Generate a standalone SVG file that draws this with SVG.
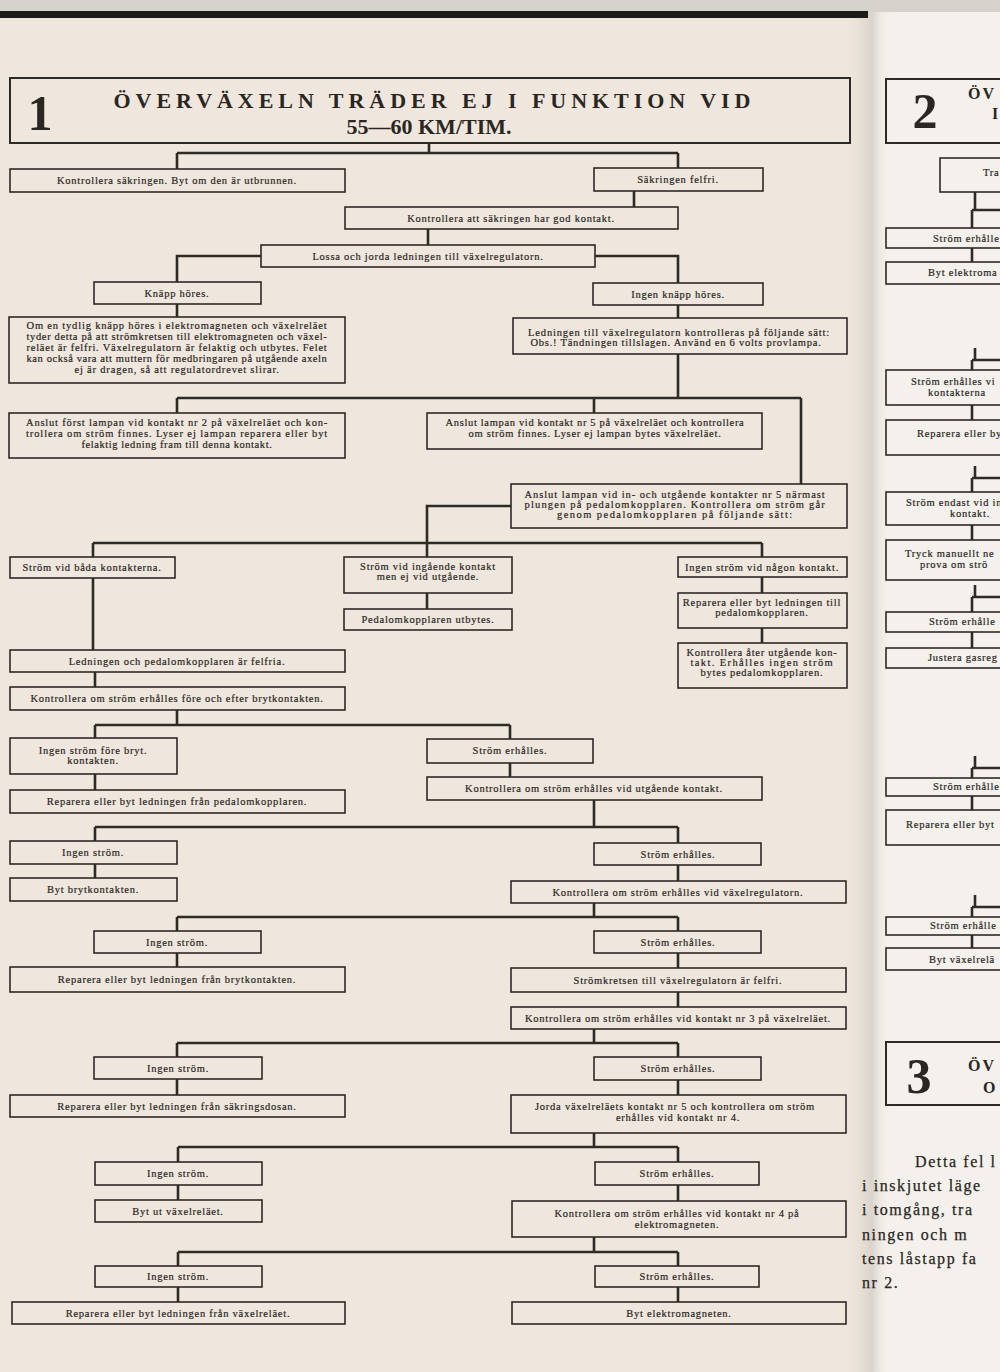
<svg xmlns="http://www.w3.org/2000/svg" width="1000" height="1372" viewBox="0 0 1000 1372">
<defs>
<linearGradient id="fold" x1="0" x2="1" y1="0" y2="0">
<stop offset="0" stop-color="#e9e2d8" stop-opacity="0"/>
<stop offset="0.6" stop-color="#d9d3cb"/>
<stop offset="1" stop-color="#f3f0eb" stop-opacity="0"/>
</linearGradient>
<style>
.b{fill:none;stroke:#2e2a26;stroke-width:1.6}
.c{fill:none;stroke:#2e2a26;stroke-width:2.6;stroke-linejoin:miter}
.t{font-family:"Liberation Serif","DejaVu Serif",serif;font-size:10.5px;fill:#2a2623;stroke:#2a2623;stroke-width:0.2;letter-spacing:0.75px;text-anchor:middle}
.s{font-family:"Liberation Serif","DejaVu Serif",serif;font-size:10.5px;fill:#2a2623;stroke:#2a2623;stroke-width:0.2;letter-spacing:0.75px}
.hn{font-family:"Liberation Serif","DejaVu Serif",serif;font-weight:bold;font-size:50px;fill:#2a2622;text-anchor:middle}
.ht{font-family:"Liberation Serif","DejaVu Serif",serif;font-weight:bold;font-size:22px;fill:#2a2622;text-anchor:middle}
.hs{font-family:"Liberation Serif","DejaVu Serif",serif;font-weight:bold;font-size:16px;fill:#2a2622;letter-spacing:2px}
.p{font-family:"Liberation Serif","DejaVu Serif",serif;font-size:16px;fill:#2a2623;stroke:#2a2623;stroke-width:0.25;letter-spacing:1.6px}
</style>
</defs>
<rect width="1000" height="1372" fill="#efe7dd"/>
<rect x="870" y="0" width="130" height="1372" fill="#f4f1ec"/>
<rect x="845" y="0" width="45" height="1372" fill="url(#fold)"/>
<rect x="0" y="0" width="1000" height="12" fill="#d6d2cc"/>
<rect x="0" y="11" width="868" height="7" fill="#1e1c1a"/>

<g id="connectors">
<path class="c" d="M429 143V153M177 153H678M177 153V169M678 153V168"/>
<path class="c" d="M634 191V207M428 229V245"/>
<path class="c" d="M261 256H177V282M595 256H678V283"/>
<path class="c" d="M177 304V317M678 305V318"/>
<path class="c" d="M678 354V398M177 398H801M177 398V413M594 398V413M801 398V484"/>
<path class="c" d="M511 506H427V557M93 543H762M93 543V557M93 578V650M762 543V557"/>
<path class="c" d="M427 593V609M762 577V593M762 628V643"/>
<path class="c" d="M95 672V687M177 710V725M95 725H510M95 725V738M510 725V739"/>
<path class="c" d="M95 774V790M510 763V777"/>
<path class="c" d="M594 800V827M95 827H678M95 827V841M678 827V843"/>
<path class="c" d="M95 864V878M678 865V881"/>
<path class="c" d="M594 903V917M177 917H678M177 917V931M678 917V931"/>
<path class="c" d="M177 953V967M678 953V968M678 992V1007"/>
<path class="c" d="M594 1029V1043M177 1043H678M177 1043V1057M678 1043V1057"/>
<path class="c" d="M177 1079V1095M678 1080V1095"/>
<path class="c" d="M594 1133V1147M178 1147H678M178 1147V1162M678 1147V1162"/>
<path class="c" d="M178 1185V1200M678 1185V1201"/>
<path class="c" d="M594 1237V1252M178 1252H678M178 1252V1266M678 1252V1266"/>
<path class="c" d="M178 1287V1302M678 1287V1302"/>
<path class="c" d="M975 192V210M972 210H1002M972 210V228M972 248V262"/>
<path class="c" d="M975 348V360M972 360H1002M972 360V370M972 405V420"/>
<path class="c" d="M975 466V478M972 478H1002M972 478V492M972 525V540"/>
<path class="c" d="M975 585V597M972 597H1002M972 597V612M972 632V648"/>
<path class="c" d="M975 756V768M972 768H1002M972 768V778M972 796V810"/>
<path class="c" d="M975 895V907M972 907H1002M972 907V917M972 935V948"/>
</g>

<g id="h1"><rect class="b" x="10" y="78" width="840" height="65" style="stroke-width:2"/>
<text class="hn" x="40" y="130">1</text>
<text class="ht" x="432" y="108" textLength="637" lengthAdjust="spacing">ÖVERVÄXELN TRÄDER EJ I FUNKTION VID</text>
<text class="ht" x="429" y="134">55—60 KM/TIM.</text></g>

<g id="n1"><rect class="b" x="10" y="169" width="335" height="23"/><text class="t" x="177" y="184">Kontrollera säkringen.  Byt om den är utbrunnen.</text></g>
<g id="n2"><rect class="b" x="594" y="168" width="169" height="23"/><text class="t" x="678" y="183">Säkringen felfri.</text></g>
<g id="n3"><rect class="b" x="345" y="207" width="333" height="22"/><text class="t" x="511" y="222">Kontrollera att säkringen har god kontakt.</text></g>
<g id="n4"><rect class="b" x="261" y="245" width="334" height="22"/><text class="t" x="428" y="260">Lossa och jorda ledningen till växelregulatorn.</text></g>
<g id="n5"><rect class="b" x="94" y="282" width="167" height="22"/><text class="t" x="177" y="297">Knäpp höres.</text></g>
<g id="n6"><rect class="b" x="593" y="283" width="170" height="22"/><text class="t" x="678" y="298">Ingen knäpp höres.</text></g>
<g id="n7"><rect class="b" x="9" y="317" width="336" height="66"/>
<text class="t" x="177" y="329" textLength="301" lengthAdjust="spacing">Om en tydlig knäpp höres i elektromagneten och växelreläet</text>
<text class="t" x="177" y="340" textLength="301" lengthAdjust="spacing">tyder detta på att strömkretsen till elektromagneten och växel-</text>
<text class="t" x="177" y="351" textLength="301" lengthAdjust="spacing">reläet är felfri.  Växelregulatorn är felaktig och utbytes. Felet</text>
<text class="t" x="177" y="362" textLength="301" lengthAdjust="spacing">kan också vara att muttern för medbringaren på utgående axeln</text>
<text class="t" x="177" y="373" textLength="205" lengthAdjust="spacing">ej är dragen, så att regulatordrevet slirar.</text></g>
<g id="n8"><rect class="b" x="513" y="318" width="334" height="36"/>
<text class="t" x="679" y="336" textLength="302" lengthAdjust="spacing">Ledningen till växelregulatorn kontrolleras på följande sätt:</text>
<text class="t" x="676" y="346" textLength="291" lengthAdjust="spacing">Obs.! Tändningen tillslagen.  Använd en 6 volts provlampa.</text></g>
<g id="n9"><rect class="b" x="9" y="413" width="336" height="45"/>
<text class="t" x="177" y="426" textLength="302" lengthAdjust="spacing">Anslut först lampan vid kontakt nr 2 på växelreläet och kon-</text>
<text class="t" x="177" y="437" textLength="302" lengthAdjust="spacing">trollera om ström finnes.  Lyser ej lampan reparera eller byt</text>
<text class="t" x="177" y="448" textLength="191" lengthAdjust="spacing">felaktig ledning fram till denna kontakt.</text></g>
<g id="n10"><rect class="b" x="427" y="413" width="335" height="36"/>
<text class="t" x="595" y="426" textLength="299" lengthAdjust="spacing">Anslut lampan vid kontakt nr 5 på växelreläet och kontrollera</text>
<text class="t" x="595" y="437" textLength="253" lengthAdjust="spacing">om ström finnes.  Lyser ej lampan bytes växelreläet.</text></g>
<g id="n11"><rect class="b" x="511" y="484" width="336" height="44"/>
<text class="t" x="675" y="498" textLength="301" lengthAdjust="spacing">Anslut lampan vid in- och utgående kontakter nr 5 närmast</text>
<text class="t" x="675" y="508" textLength="301" lengthAdjust="spacing">plungen på pedalomkopplaren.  Kontrollera om ström går</text>
<text class="t" x="675" y="518" textLength="236" lengthAdjust="spacing">genom pedalomkopplaren på följande sätt:</text></g>
<g id="n12"><rect class="b" x="10" y="557" width="165" height="21"/><text class="t" x="92" y="571">Ström vid båda kontakterna.</text></g>
<g id="n13"><rect class="b" x="344" y="557" width="168" height="36"/>
<text class="t" x="428" y="570">Ström vid ingående kontakt</text>
<text class="t" x="428" y="580">men ej vid utgående.</text></g>
<g id="n14"><rect class="b" x="678" y="557" width="169" height="20"/><text class="t" x="762" y="571">Ingen ström vid någon kontakt.</text></g>
<g id="n15"><rect class="b" x="344" y="609" width="168" height="21"/><text class="t" x="428" y="623">Pedalomkopplaren utbytes.</text></g>
<g id="n16"><rect class="b" x="678" y="593" width="169" height="35"/>
<text class="t" x="762" y="606">Reparera eller byt ledningen till</text>
<text class="t" x="762" y="616">pedalomkopplaren.</text></g>
<g id="n17"><rect class="b" x="678" y="643" width="169" height="45"/>
<text class="t" x="762" y="656" textLength="151" lengthAdjust="spacing">Kontrollera åter utgående kon-</text>
<text class="t" x="762" y="666" textLength="143" lengthAdjust="spacing">takt.  Erhålles ingen ström</text>
<text class="t" x="762" y="676">bytes pedalomkopplaren.</text></g>
<g id="n18"><rect class="b" x="10" y="650" width="335" height="22"/><text class="t" x="177" y="665">Ledningen och pedalomkopplaren är felfria.</text></g>
<g id="n19"><rect class="b" x="10" y="687" width="335" height="23"/><text class="t" x="177" y="702">Kontrollera om ström erhålles före och efter brytkontakten.</text></g>
<g id="n20"><rect class="b" x="10" y="738" width="167" height="36"/>
<text class="t" x="93" y="754">Ingen ström före bryt.</text>
<text class="t" x="93" y="764">kontakten.</text></g>
<g id="n21"><rect class="b" x="427" y="739" width="166" height="24"/><text class="t" x="510" y="754">Ström erhålles.</text></g>
<g id="n22"><rect class="b" x="10" y="790" width="335" height="23"/><text class="t" x="177" y="805">Reparera eller byt ledningen från pedalomkopplaren.</text></g>
<g id="n23"><rect class="b" x="427" y="777" width="335" height="23"/><text class="t" x="594" y="792">Kontrollera om ström erhålles vid utgående kontakt.</text></g>
<g id="n24"><rect class="b" x="10" y="841" width="167" height="23"/><text class="t" x="93" y="856">Ingen ström.</text></g>
<g id="n25"><rect class="b" x="594" y="843" width="167" height="22"/><text class="t" x="678" y="858">Ström erhålles.</text></g>
<g id="n26"><rect class="b" x="10" y="878" width="167" height="23"/><text class="t" x="93" y="893">Byt brytkontakten.</text></g>
<g id="n27"><rect class="b" x="511" y="881" width="335" height="22"/><text class="t" x="678" y="896">Kontrollera om ström erhålles vid växelregulatorn.</text></g>
<g id="n28"><rect class="b" x="94" y="931" width="167" height="22"/><text class="t" x="177" y="946">Ingen ström.</text></g>
<g id="n29"><rect class="b" x="594" y="931" width="167" height="22"/><text class="t" x="678" y="946">Ström erhålles.</text></g>
<g id="n30"><rect class="b" x="10" y="967" width="335" height="25"/><text class="t" x="177" y="983">Reparera eller byt ledningen från brytkontakten.</text></g>
<g id="n31"><rect class="b" x="511" y="968" width="335" height="24"/><text class="t" x="678" y="984">Strömkretsen till växelregulatorn är felfri.</text></g>
<g id="n32"><rect class="b" x="511" y="1007" width="335" height="22"/><text class="t" x="678" y="1022">Kontrollera om ström erhålles vid kontakt nr 3 på växelreläet.</text></g>
<g id="n33"><rect class="b" x="94" y="1057" width="168" height="22"/><text class="t" x="178" y="1072">Ingen ström.</text></g>
<g id="n34"><rect class="b" x="594" y="1057" width="167" height="23"/><text class="t" x="678" y="1072">Ström erhålles.</text></g>
<g id="n35"><rect class="b" x="10" y="1095" width="335" height="22"/><text class="t" x="177" y="1110">Reparera eller byt ledningen från säkringsdosan.</text></g>
<g id="n36"><rect class="b" x="511" y="1095" width="335" height="38"/>
<text class="t" x="675" y="1110">Jorda växelreläets kontakt nr 5 och kontrollera om ström</text>
<text class="t" x="678" y="1121">erhålles vid kontakt nr 4.</text></g>
<g id="n37"><rect class="b" x="95" y="1162" width="167" height="23"/><text class="t" x="178" y="1177">Ingen ström.</text></g>
<g id="n38"><rect class="b" x="595" y="1162" width="164" height="23"/><text class="t" x="677" y="1177">Ström erhålles.</text></g>
<g id="n39"><rect class="b" x="95" y="1200" width="167" height="22"/><text class="t" x="178" y="1215">Byt ut växelreläet.</text></g>
<g id="n40"><rect class="b" x="512" y="1201" width="334" height="36"/>
<text class="t" x="677" y="1217">Kontrollera om ström erhålles vid kontakt nr 4 på</text>
<text class="t" x="677" y="1228">elektromagneten.</text></g>
<g id="n41"><rect class="b" x="95" y="1266" width="167" height="21"/><text class="t" x="178" y="1280">Ingen ström.</text></g>
<g id="n42"><rect class="b" x="595" y="1266" width="164" height="21"/><text class="t" x="677" y="1280">Ström erhålles.</text></g>
<g id="n43"><rect class="b" x="12" y="1302" width="333" height="22"/><text class="t" x="178" y="1317">Reparera eller byt ledningen från växelreläet.</text></g>
<g id="n44"><rect class="b" x="512" y="1302" width="334" height="22"/><text class="t" x="679" y="1317">Byt elektromagneten.</text></g>

<g id="h2"><rect class="b" x="886" y="79" width="130" height="64" style="stroke-width:2"/>
<text class="hn" x="925" y="128">2</text>
<text class="hs" x="968" y="99">ÖV</text>
<text class="hs" x="992" y="119">I</text></g>
<g id="p2a"><rect class="b" x="940" y="158" width="80" height="34"/><text class="s" x="983" y="176">Tra</text></g>
<g id="p2b"><rect class="b" x="886" y="228" width="130" height="20"/><text class="s" x="933" y="242">Ström erhålle</text></g>
<g id="p2c"><rect class="b" x="886" y="262" width="130" height="22"/><text class="s" x="928" y="276">Byt elektroma</text></g>
<g id="p2d"><rect class="b" x="886" y="370" width="130" height="35"/><text class="s" x="911" y="385">Ström erhålles vi</text><text class="s" x="928" y="396">kontakterna</text></g>
<g id="p2e"><rect class="b" x="886" y="420" width="130" height="35"/><text class="s" x="917" y="437">Reparera eller by</text></g>
<g id="p2f"><rect class="b" x="886" y="492" width="130" height="33"/><text class="s" x="906" y="506">Ström endast vid in</text><text class="s" x="950" y="517">kontakt.</text></g>
<g id="p2g"><rect class="b" x="886" y="540" width="130" height="40"/><text class="s" x="905" y="557">Tryck manuellt ne</text><text class="s" x="920" y="568">prova om strö</text></g>
<g id="p2h"><rect class="b" x="886" y="612" width="130" height="20"/><text class="s" x="929" y="625">Ström erhålle</text></g>
<g id="p2i"><rect class="b" x="886" y="648" width="130" height="20"/><text class="s" x="928" y="661">Justera gasreg</text></g>
<g id="p2j"><rect class="b" x="886" y="778" width="130" height="18"/><text class="s" x="933" y="790">Ström erhålle</text></g>
<g id="p2k"><rect class="b" x="886" y="810" width="130" height="35"/><text class="s" x="906" y="828">Reparera eller byt</text></g>
<g id="p2l"><rect class="b" x="886" y="917" width="130" height="18"/><text class="s" x="930" y="929">Ström erhålle</text></g>
<g id="p2m"><rect class="b" x="886" y="948" width="130" height="22"/><text class="s" x="929" y="963">Byt växelrelä</text></g>
<g id="h3"><rect class="b" x="886" y="1042" width="130" height="63" style="stroke-width:2"/>
<text class="hn" x="919" y="1093">3</text>
<text class="hs" x="968" y="1071">ÖV</text>
<text class="hs" x="983" y="1093">O</text></g>
<g id="para3">
<text class="p" x="915" y="1167">Detta fel l</text>
<text class="p" x="862" y="1191">i inskjutet läge</text>
<text class="p" x="862" y="1215">i tomgång, tra</text>
<text class="p" x="862" y="1240">ningen och m</text>
<text class="p" x="862" y="1264">tens låstapp fa</text>
<text class="p" x="862" y="1288">nr 2.</text></g>
</svg>
